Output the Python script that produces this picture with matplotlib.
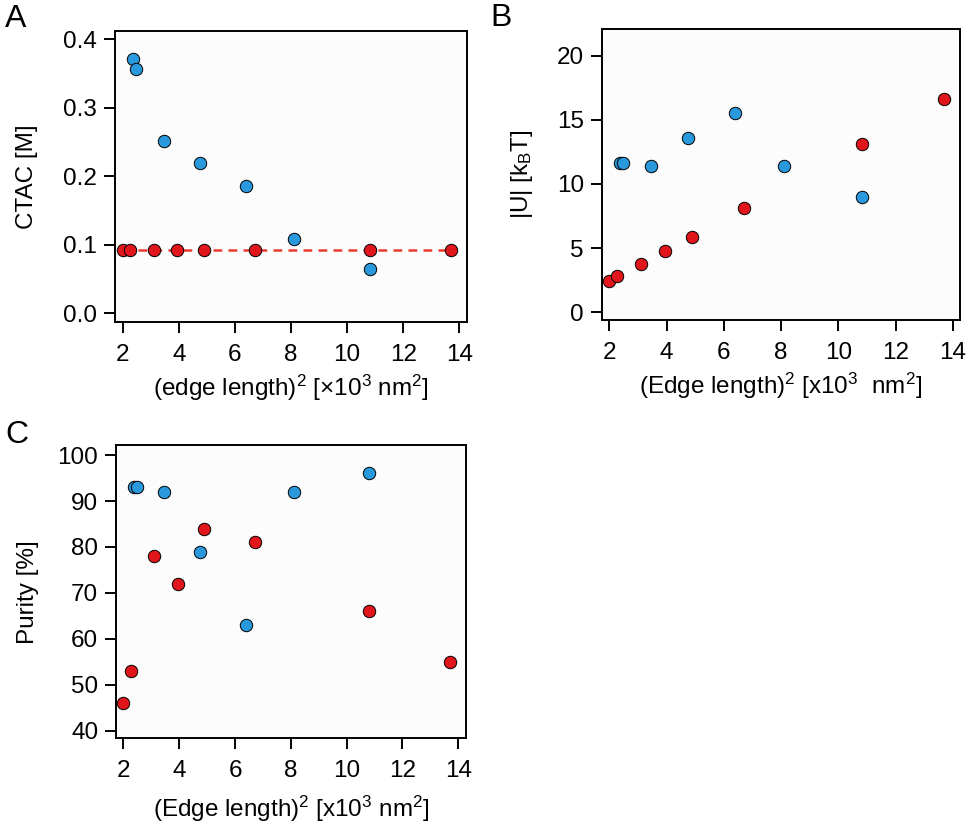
import numpy as np
import matplotlib
matplotlib.use('Agg')
import matplotlib.pyplot as plt

plt.rcParams['font.family'] = ['Liberation Sans', 'DejaVu Sans']
plt.rcParams['mathtext.fontset'] = 'custom'
plt.rcParams['mathtext.rm'] = 'Liberation Sans'
plt.rcParams['mathtext.it'] = 'Liberation Sans:italic'
plt.rcParams['mathtext.default'] = 'regular'

# (edge length)^2 in 10^3 nm^2
x_blue = [2.37, 2.48, 3.47, 4.75, 6.38, 8.10, 10.82]
x_red = [2.00, 2.27, 3.10, 3.95, 4.90, 6.70, 10.82, 13.70]

# panel A: CTAC concentration [M]
ctac_blue = [0.371, 0.357, 0.252, 0.220, 0.186, 0.108, 0.064]
ctac_red = [0.093, 0.093, 0.093, 0.093, 0.093, 0.093, 0.093, 0.093]

# panel B: |U| [kBT]
u_blue = [11.6, 11.6, 11.4, 13.6, 15.5, 11.4, 9.0]
u_red = [2.4, 2.8, 3.8, 4.8, 5.9, 8.1, 13.1, 16.6]

# panel C: purity [%]
pur_blue = [93, 93, 92, 79, 63, 92, 96]
pur_red = [46, 53, 78, 72, 84, 81, 66, 55]

BLUE = '#2a98dc'
RED = '#e1161c'
FS = 17.5

fig = plt.figure(figsize=(9.68, 8.27), dpi=100)
axA = fig.add_axes([0.1188, 0.6106, 0.3636, 0.3519])
axB = fig.add_axes([0.6216, 0.6131, 0.3701, 0.3515])
axC = fig.add_axes([0.1198, 0.1073, 0.3613, 0.3546])


def style(ax):
    ax.set_facecolor('#fcfcfc')
    for s in ax.spines.values():
        s.set_linewidth(1.4)
    ax.tick_params(direction='out', length=7.8, width=1.4, labelsize=FS)
    ax.tick_params(axis='y', pad=5)
    ax.tick_params(axis='x', pad=8)
    ax.set_xticks([2, 4, 6, 8, 10, 12, 14])


def pts(ax, x, y, c):
    ax.scatter(x, y, s=80, c=c, edgecolors='black', linewidths=0.7, zorder=3)


# A
style(axA)
axA.plot([x_red[0], x_red[-1]], [ctac_red[0], ctac_red[-1]], ls=(0, (3.5, 2.5)),
         color='#ea3a30', lw=1.8, zorder=2)
pts(axA, x_blue, ctac_blue, BLUE)
pts(axA, x_red, ctac_red, RED)
axA.set_xlim(1.725, 14.27)
axA.set_ylim(-0.0127, 0.412)
axA.set_yticks([0.0, 0.1, 0.2, 0.3, 0.4])
axA.set_yticklabels(['0.0', '0.1', '0.2', '0.3', '0.4'])
axA.set_ylabel('CTAC [M]', fontsize=FS, labelpad=18)
axA.set_xlabel(r'(edge length)$^2$ [×10$^3$ nm$^2$]', fontsize=FS, labelpad=5)

# B
style(axB)
pts(axB, x_blue, u_blue, BLUE)
pts(axB, x_red, u_red, RED)
axB.set_xlim(1.73, 14.25)
axB.set_ylim(-0.6, 22.06)
axB.set_yticks([0, 5, 10, 15, 20])
axB.set_ylabel(r'|U| [k$_B$T]', fontsize=FS, labelpad=16)
axB.set_xlabel(r'(Edge length)$^2$ [x10$^3$  nm$^2$]', fontsize=FS, labelpad=5)

# C
style(axC)
pts(axC, x_blue, pur_blue, BLUE)
pts(axC, x_red, pur_red, RED)
axC.set_xlim(1.73, 14.27)
axC.set_ylim(38.35, 102.2)
axC.set_yticks([40, 50, 60, 70, 80, 90, 100])
axC.set_ylabel('Purity [%]', fontsize=FS, labelpad=13)
axC.set_xlabel(r'(Edge length)$^2$ [x10$^3$ nm$^2$]', fontsize=FS, labelpad=8)

fig.text(5 / 968, 1 - 27 / 827, 'A', fontsize=23, va='baseline', ha='left')
fig.text(490 / 968, 1 - 26 / 827, 'B', fontsize=23, va='baseline', ha='left')
fig.text(5 / 968, 1 - 443 / 827, 'C', fontsize=23, va='baseline', ha='left')

fig.savefig('out.png', dpi=100)
